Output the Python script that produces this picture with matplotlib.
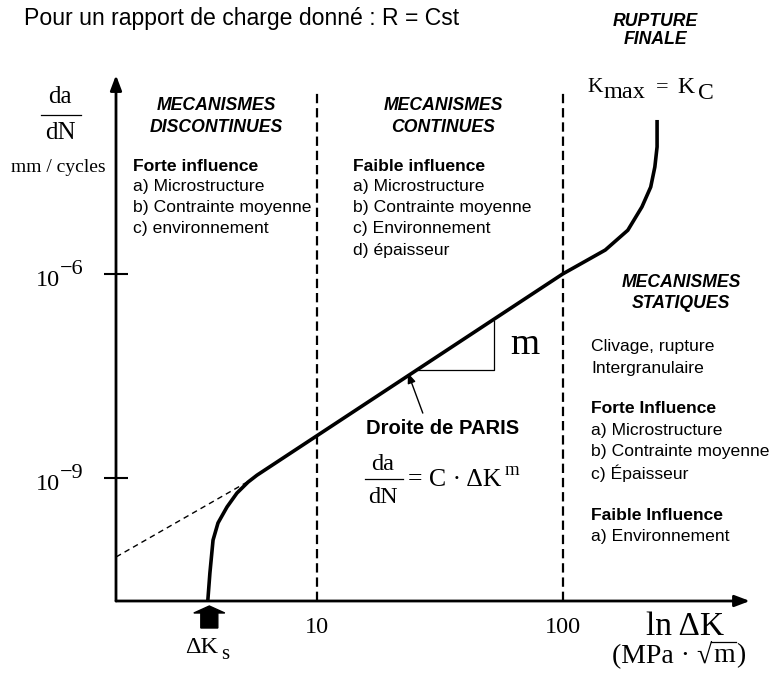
import matplotlib
matplotlib.use("Agg")
import matplotlib.pyplot as plt
from matplotlib.patches import FancyArrow
from matplotlib.transforms import IdentityTransform
from matplotlib.lines import Line2D

# ---------------- data ----------------
# crack growth curve  (Delta K in MPa.sqrt(m), da/dN in mm/cycle)
CURVE_DK = [3.61, 3.68, 3.79, 3.97, 4.32, 4.74, 5.26, 5.72, 100.0,
            149.0, 184.0, 210.0, 228.0, 237.0, 242.0, 242.0]
CURVE_DADN = [1.6e-11, 4.0e-11, 1.22e-10, 2.18e-10, 3.75e-10, 6.0e-10,
              8.7e-10, 1.1e-9, 1.0e-6, 2.25e-6, 4.4e-6, 9.7e-6, 1.9e-5,
              3.75e-5, 7.4e-5, 1.84e-4]
# dashed extrapolation of the Paris line towards low Delta K
EXTRAP_DK = [1.53, 5.21]
EXTRAP_DADN = [6.9e-11, 8.7e-10]
# regime boundaries
REGIME_DK = [10, 100]
REGIME_TOP = 4.6e-4
# slope triangle
TRI_DK = [25.8, 52.6, 52.6]
TRI_DADN = [3.87e-8, 3.87e-8, 2.04e-7]
# Paris arrow (tail -> head)
PARIS_TAIL = (27.0, 9.0e-9)
PARIS_HEAD = (23.5, 3.5e-8)
# threshold
DK_S = 3.66
# axes
X_TICKS = [10, 100]
X_TICK_LABELS = ["10", "100"]
Y_TICKS = [1e-9, 1e-6]
Y_TICK_EXP = ["\u22129", "\u22126"]
X0, X_END = 1.528, 577.0
Y0, Y_END = 1.552e-11, 8.4e-4
XLIM = (1.528, 709.6)
YLIM = (1.552e-11, 1.069e-2)

W, H = 772, 677
SANS = "Liberation Sans"
SERIF = "Liberation Serif"
plt.rcParams["mathtext.fontset"] = "stix"

fig = plt.figure(figsize=(W / 100, H / 100), dpi=100)
fig.patch.set_facecolor("white")
ax = fig.add_axes([116 / W, 76 / H, (W - 116) / W, 601 / H])
ax.set_xscale("log")
ax.set_yscale("log")
ax.set_xlim(*XLIM)
ax.set_ylim(*YLIM)
for s in ax.spines.values():
    s.set_visible(False)
ax.minorticks_off()
ax.set_xticks([])
ax.set_yticks(Y_TICKS)
ax.set_yticklabels([])
ax.tick_params(axis="y", direction="inout", length=17.3, width=1.5)
ax.set_facecolor("none")

# axes with arrows
arrow_kw = dict(arrowstyle="-|>,head_length=0.45,head_width=0.17", lw=2.0,
                color="k", shrinkA=0, shrinkB=0, mutation_scale=20)
ax.annotate("", xy=(X_END, Y0), xytext=(X0, Y0), arrowprops=arrow_kw,
            annotation_clip=False)
ax.annotate("", xy=(X0, Y_END), xytext=(X0, Y0), arrowprops=arrow_kw,
            annotation_clip=False)

# regime boundaries
for k in REGIME_DK:
    ax.plot([k, k], [Y0, REGIME_TOP], color="k", lw=1.6,
            ls=(0, (4.2, 2.2)), clip_on=False)

# curves
ax.plot(EXTRAP_DK, EXTRAP_DADN, color="k", lw=1.0, ls=(0, (4, 3)))
ax.plot(CURVE_DK, CURVE_DADN, color="k", lw=2.6, solid_joinstyle="round",
        solid_capstyle="butt", clip_on=False)
ax.plot(TRI_DK, TRI_DADN, color="k", lw=0.9)
ax.annotate("", xy=PARIS_HEAD, xytext=PARIS_TAIL,
            arrowprops=dict(arrowstyle="-|>,head_length=0.5,head_width=0.2",
                            lw=1.0, color="k", shrinkA=0, shrinkB=0,
                            mutation_scale=12))

# tick labels
for k, lab in zip(X_TICKS, X_TICK_LABELS):
    ax.annotate(lab, xy=(k, Y0), xytext=(0, -26), textcoords="offset pixels",
                ha="center", va="center", fontsize=17.5, family=SERIF,
                annotation_clip=False)
for v, e in zip(Y_TICKS, Y_TICK_EXP):
    ax.annotate("10", xy=(X0, v), xytext=(-56, -12), textcoords="offset pixels",
                ha="right", va="baseline", fontsize=17.5, family=SERIF,
                annotation_clip=False)
    ax.annotate(e, xy=(X0, v), xytext=(-56, 0), textcoords="offset pixels",
                ha="left", va="baseline", fontsize=16, family=SERIF,
                annotation_clip=False)

# threshold arrow
xs, ys = ax.transData.transform((DK_S, Y0))
fig.add_artist(FancyArrow(xs, ys - 27, 0, 22, width=17, head_width=31,
                          head_length=7, length_includes_head=True,
                          color="k", transform=IdentityTransform()))


def T(x, y, s, **kw):
    return fig.text(x / W, 1 - y / H, s, **kw)


def hline(x1, x2, y, lw=0.9):
    fig.add_artist(Line2D([x1 / W, x2 / W], [1 - y / H, 1 - y / H],
                          transform=fig.transFigure, color="k", lw=lw))


renderer = fig.canvas.get_renderer()


def right_px(t):
    return t.get_window_extent(renderer).x1


# title
T(24, 18, "Pour un rapport de charge donné : R = Cst", fontsize=16.6,
  family=SANS, va="center", ha="left")

# y label
T(60, 97, "da", fontsize=18, family=SERIF, ha="center", va="center")
hline(41, 81, 115)
T(60, 133, "dN", fontsize=18, family=SERIF, ha="center", va="center")
T(58, 168, "mm / cycles", fontsize=14, family=SERIF, ha="center", va="center")

# x label
T(685, 635, "ln \u0394K", fontsize=24, family=SERIF, ha="center", va="baseline")
t1 = T(612, 662, "(MPa \u00b7 \u221a", fontsize=20, family=SERIF, ha="left",
       va="baseline")
x_m = right_px(t1)
t2 = T(x_m + 1, 662, "m", fontsize=20, family=SERIF, ha="left", va="baseline")
x_m2 = right_px(t2)
T(x_m2 + 1, 662, ")", fontsize=20, family=SERIF, ha="left", va="baseline")
hline(x_m - 1, x_m2 + 1, 642, lw=0.9)

# Delta K_s
T(185, 653, "\u0394K", fontsize=17.5, family=SERIF, ha="left", va="baseline")
T(221, 659, "s", fontsize=15, family=SERIF, ha="left", va="baseline")

# K_max = K_C
T(587, 92, "K", fontsize=15.5, family=SERIF, ha="left", va="baseline")
T(604, 98, "max", fontsize=17.5, family=SERIF, ha="left", va="baseline")
T(656, 92, "=", fontsize=16, family=SERIF, ha="left", va="baseline")
T(677, 93, "K", fontsize=17, family=SERIF, ha="left", va="baseline")
T(698, 99, "C", fontsize=17, family=SERIF, ha="left", va="baseline")

# headings
head = dict(fontsize=12.7, family=SANS, weight="bold", style="italic",
            ha="center", va="center")
T(655, 21, "RUPTURE", **head)
T(655, 40, "FINALE", **head)
T(216, 106, "MECANISMES", **head)
T(216, 127, "DISCONTINUES", **head)
T(443, 106, "MECANISMES", **head)
T(443, 127, "CONTINUES", **head)
T(681, 283, "MECANISMES", **head)
T(681, 304, "STATIQUES", **head)

body = dict(fontsize=12.6, family=SANS, ha="left", va="center")
bold = dict(body, weight="bold")

T(133, 166, "Forte influence", **bold)
for i, s in enumerate(["a) Microstructure", "b) Contrainte moyenne",
                       "c) environnement"]):
    T(133, 187 + 21 * i, s, **body)

T(353, 166, "Faible influence", **bold)
for i, s in enumerate(["a) Microstructure", "b) Contrainte moyenne",
                       "c) Environnement", "d) épaisseur"]):
    T(353, 187 + 21 * i, s, **body)

T(591, 347, "Clivage, rupture", **body)
T(591, 368, "Intergranulaire", **body)
T(591, 409, "Forte Influence", **bold)
for i, s in enumerate(["a) Microstructure", "b) Contrainte moyenne",
                       "c) Épaisseur"]):
    T(591, 430 + 21.5 * i, s, **body)
T(591, 515, "Faible Influence", **bold)
T(591, 536, "a) Environnement", **body)

# Paris law
T(443, 428, "Droite de PARIS", fontsize=14.5, family=SANS, weight="bold",
  ha="center", va="center")
T(383, 470, "da", fontsize=17.5, family=SERIF, ha="center", va="baseline")
hline(365, 403, 479)
T(383, 503, "dN", fontsize=17.5, family=SERIF, ha="center", va="baseline")
T(408, 486, "= C \u00b7 \u0394K", fontsize=18.5, family=SERIF, ha="left",
  va="baseline")
T(505, 475, "m", fontsize=13.5, family=SERIF, ha="left", va="baseline")

# slope label
T(510, 354, "m", fontsize=27, family=SERIF, ha="left", va="baseline")

fig.savefig("out.png", dpi=100)
